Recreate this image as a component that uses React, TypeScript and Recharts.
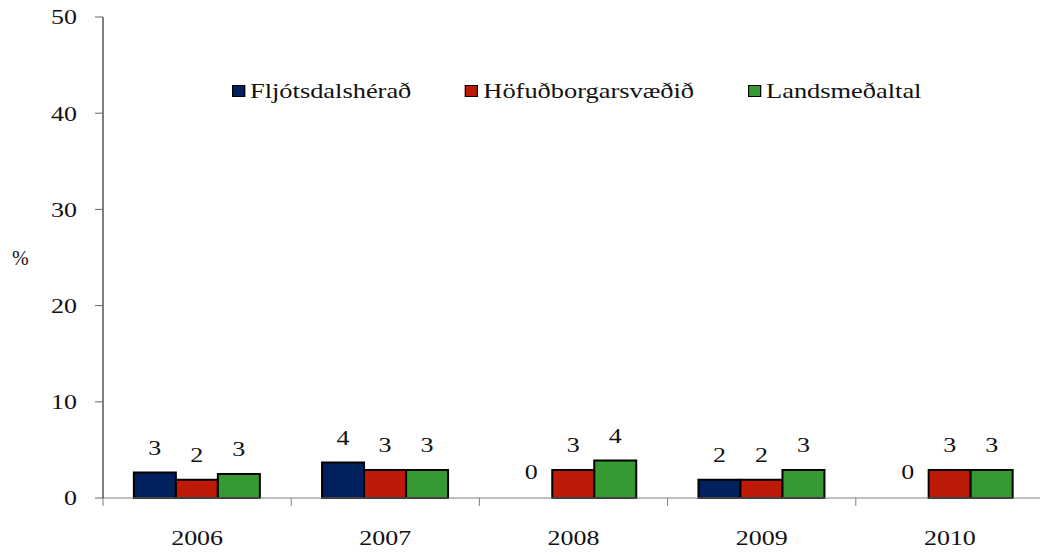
import { Bar, BarChart, LabelList, Legend, Rectangle, XAxis, YAxis } from 'recharts'

const years = ['2006', '2007', '2008', '2009', '2010']
const fljotsdalsherad = [2.65, 3.7, 0, 1.9, 0]
const hofudborgarsvaedid = [1.9, 2.9, 2.9, 1.9, 2.9]
const landsmedaltal = [2.5, 2.9, 3.9, 2.9, 2.9]
const yTicks = [0, 10, 20, 30, 40, 50]

const data = years.map((year, i) => ({
  year,
  fljot: fljotsdalsherad[i],
  hofud: hofudborgarsvaedid[i],
  lands: landsmedaltal[i],
}))

const FONT = "'Liberation Serif', 'Times New Roman', serif"
const STRETCH = 1.18

// zero values still get a label, but no visible bar
function BarShape(props: any) {
  if (props.height < 1.5) return <g />
  return <Rectangle {...props} />
}

function ValueLabel({ x, y, width, value }: any) {
  return (
    <text
      transform={`translate(${x + width / 2} ${y - 25}) scale(${STRETCH} 1)`}
      textAnchor="middle"
      dominantBaseline="central"
      fontFamily={FONT}
      fontSize={22}
      fill="#111"
    >
      {Math.round(value)}
    </text>
  )
}

function YearTick({ x, y, payload, index }: any) {
  const half = payload.offset ?? 0
  return (
    <g>
      <line x1={x - half} x2={x - half} y1={y} y2={y + 8} stroke="#808080" />
      {index === years.length - 1 && (
        <line x1={x + half} x2={x + half} y1={y} y2={y + 8} stroke="#808080" />
      )}
      <text
        transform={`translate(${x} ${y + 40}) scale(${STRETCH} 1)`}
        textAnchor="middle"
        dominantBaseline="central"
        fontFamily={FONT}
        fontSize={22}
        fill="#111"
      >
        {payload.value}
      </text>
    </g>
  )
}

function PercentTick({ x, y, payload }: any) {
  return (
    <text
      transform={`translate(${x} ${y}) scale(${STRETCH} 1)`}
      textAnchor="end"
      dominantBaseline="central"
      fontFamily={FONT}
      fontSize={22}
      fill="#111"
    >
      {payload.value}
    </text>
  )
}

function LegendBox({ payload }: any) {
  return (
    <div
      style={{
        display: 'flex',
        alignItems: 'center',
        transform: 'scaleX(1.2)',
        transformOrigin: 'left center',
        fontFamily: FONT,
        fontSize: 22,
        color: '#111',
        whiteSpace: 'nowrap',
      }}
    >
      {payload.map((p: any) => (
        <div key={p.value} style={{ display: 'flex', alignItems: 'center', marginRight: 45 }}>
          <span
            style={{
              width: 11,
              height: 12,
              boxSizing: 'border-box',
              background: p.color,
              border: '1.5px solid #000',
              marginRight: 4,
            }}
          />
          <span>{p.value}</span>
        </div>
      ))}
    </div>
  )
}

export default function App() {
  return (
    <div style={{ position: 'absolute', left: 0, top: 0, background: '#fff' }}>
      <BarChart
        width={1040}
        height={556}
        data={data}
        margin={{ top: 17, right: -4, bottom: 0, left: 0 }}
        barCategoryGap="16.4%"
        barGap={0}
      >
        <XAxis
          dataKey="year"
          height={58}
          interval={0}
          tickSize={0}
          tickMargin={0}
          tickLine={false}
          axisLine={{ stroke: '#808080' }}
          tick={<YearTick />}
        />
        <YAxis
          domain={[0, 50]}
          ticks={yTicks}
          width={103}
          tickSize={8}
          tickMargin={18}
          axisLine={{ stroke: '#000' }}
          tickLine={{ stroke: '#666' }}
          tick={<PercentTick />}
          label={{
            value: '%',
            position: 'insideLeft',
            offset: 12,
            fontFamily: FONT,
            fontSize: 20,
            fill: '#111',
          }}
        />
        <Legend
          layout="horizontal"
          verticalAlign="middle"
          align="center"
          content={<LegendBox />}
          wrapperStyle={{ top: 78, left: 232, width: 'auto' }}
        />
        <Bar dataKey="fljot" name="Fljótsdalshérað" fill="#00205E" stroke="#000" strokeWidth={2}
          minPointSize={1} shape={<BarShape />} isAnimationActive={false}>
          <LabelList dataKey="fljot" content={<ValueLabel />} />
        </Bar>
        <Bar dataKey="hofud" name="Höfuðborgarsvæðið" fill="#BD1A08" stroke="#000" strokeWidth={2}
          isAnimationActive={false}>
          <LabelList dataKey="hofud" content={<ValueLabel />} />
        </Bar>
        <Bar dataKey="lands" name="Landsmeðaltal" fill="#369A33" stroke="#000" strokeWidth={2}
          isAnimationActive={false}>
          <LabelList dataKey="lands" content={<ValueLabel />} />
        </Bar>
      </BarChart>
    </div>
  )
}
